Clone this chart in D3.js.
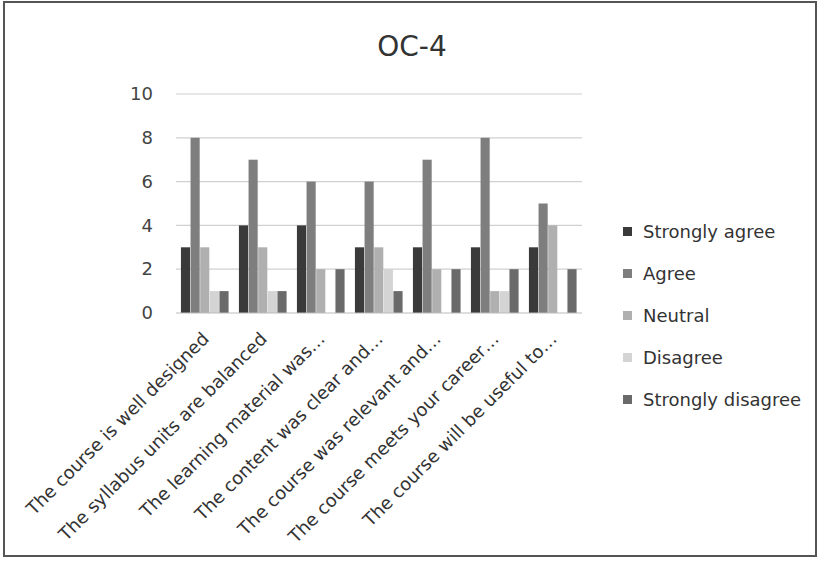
<!DOCTYPE html>
<html><head><meta charset="utf-8">
<script src="https://cdn.jsdelivr.net/npm/d3@7"></script>
<style>body{margin:0;background:#fff}svg{display:block}</style>
</head><body>
<svg id="c" width="821" height="561"></svg>
<script>
const categories = ["The course is well designed","The syllabus units are balanced","The learning material was…","The content was clear and…","The course was relevant and…","The course meets your career…","The course will be useful to…"];
const seriesNames = ["Strongly agree","Agree","Neutral","Disagree","Strongly disagree"];
const stronglyAgree = [3,4,4,3,3,3,3];
const agree = [8,7,6,6,7,8,5];
const neutral = [3,3,2,3,2,1,4];
const disagree = [1,1,0,2,0,1,0];
const stronglyDisagree = [1,1,2,1,2,2,2];
const yTicks = [0,2,4,6,8,10];
const seriesValues = [stronglyAgree, agree, neutral, disagree, stronglyDisagree];
const colors = ["#3a3a3a","#7e7e7e","#b0b0b0","#d4d4d4","#6a6a6a"];

const svg = d3.select("#c");
svg.append("rect").attr("x",4).attr("y",2).attr("width",812).attr("height",554)
  .attr("fill","#fff").attr("stroke","#555").attr("stroke-width",2);

const x0 = d3.scaleBand().domain(categories).range([176,582]).paddingInner(0.17).paddingOuter(0.085);
const x1 = d3.scaleBand().domain(seriesNames).range([0,x0.bandwidth()]);
const y = d3.scaleLinear().domain([0,10]).range([313,94]);

const font = "'DejaVu Sans', Verdana, sans-serif";
// grid
svg.append("g").selectAll("line").data(yTicks.filter(d=>d>0)).join("line")
  .attr("x1",176).attr("x2",582).attr("y1",d=>y(d)).attr("y2",d=>y(d))
  .attr("stroke","#d0d0d0").attr("stroke-width",1.2);

// y axis
const ya = svg.append("g").attr("transform","translate(176,0)")
  .call(d3.axisLeft(y).tickValues(yTicks).tickSize(0).tickPadding(23));
ya.select(".domain").remove();
ya.selectAll("text").attr("font-family",font).attr("font-size",18).attr("fill","#444");

// bars
const g = svg.append("g");
categories.forEach((c,i)=>{
  seriesNames.forEach((s,j)=>{
    const v = seriesValues[j][i];
    if (v<=0) return;
    g.append("rect").attr("x",x0(c)+x1(s)).attr("width",x1.bandwidth()-0.5)
      .attr("y",y(v)).attr("height",y(0)-y(v)).attr("fill",colors[j]);
  });
});

// baseline
svg.append("line").attr("x1",176).attr("x2",582).attr("y1",y(0)).attr("y2",y(0)).attr("stroke","#bbb");

// x labels
const xa = svg.append("g").attr("transform",`translate(0,${y(0)})`)
  .call(d3.axisBottom(x0).tickSize(0).tickPadding(0));
xa.select(".domain").remove();
xa.selectAll("text").attr("font-family",font).attr("font-size",18).attr("fill","#333")
  .attr("text-anchor","end").attr("dy",0)
  .attr("transform","translate(5,27) rotate(-45)");

// title
svg.append("text").attr("x",412).attr("y",56).attr("text-anchor","middle")
  .attr("font-family",font).attr("font-size",28).attr("fill","#333").text("OC-4");

// legend
const lg = svg.append("g").selectAll("g").data(seriesNames).join("g")
  .attr("transform",(d,i)=>`translate(623,${232+i*42})`);
lg.append("rect").attr("x",0).attr("y",-5).attr("width",9).attr("height",9).attr("fill",(d,i)=>colors[i]);
lg.append("text").attr("x",20).attr("y",0).attr("dy","0.35em").attr("font-family",font)
  .attr("font-size",18).attr("fill","#333").text(d=>d);
</script>
</body></html>
